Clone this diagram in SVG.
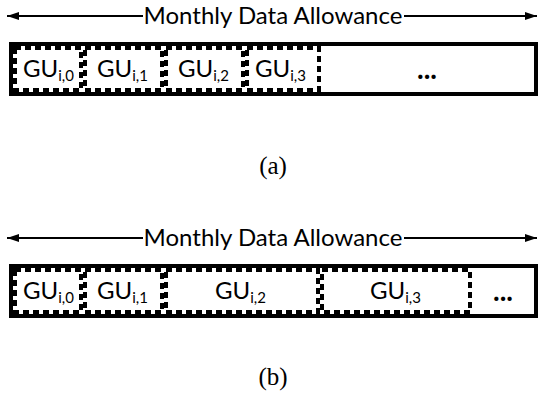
<svg xmlns="http://www.w3.org/2000/svg" width="539" height="403" viewBox="0 0 539 403">
<defs>
<marker id="ah" viewBox="0 0 12 10" refX="12" refY="5" markerWidth="12" markerHeight="10" markerUnits="userSpaceOnUse" orient="auto-start-reverse">
<path d="M0,1 L12,5 L0,9 Z" fill="#000"/>
</marker>
<style>
.outer{fill:#fff;stroke:#000;stroke-width:4}
.gu{fill:#fff;stroke:#000;stroke-width:4;stroke-dasharray:6 4}
.t{font-family:Lato,"Liberation Sans",sans-serif;font-size:24px;fill:#000}
.s{font-size:15px}
.d{font-family:Lato,"Liberation Sans",sans-serif;font-size:28px;font-weight:bold;fill:#000;text-anchor:middle}
.ttl{font-family:Lato,"Liberation Sans",sans-serif;font-size:24px;fill:#000}
.cap{font-family:"Liberation Serif",serif;font-size:25px;fill:#000;text-anchor:middle}
.arr{stroke:#000;stroke-width:2;fill:none}
</style>
</defs>
<g id="connectors">
<line class="arr" x1="143" y1="16" x2="7" y2="16" marker-end="url(#ah)"/>
<line class="arr" x1="404" y1="16" x2="537" y2="16" marker-end="url(#ah)"/>
<line class="arr" x1="143" y1="238" x2="7" y2="238" marker-end="url(#ah)"/>
<line class="arr" x1="404" y1="238" x2="537" y2="238" marker-end="url(#ah)"/>
</g>
<g id="title-a"><text class="ttl" x="273" y="24" text-anchor="middle">Monthly Data Allowance</text></g>
<g id="bar-a">
<rect class="outer" x="11" y="44" width="525" height="50"/>
</g>
<g id="gu-a0"><rect class="gu" x="15" y="48" width="66" height="42"/><text class="t" x="23" y="77">GU<tspan class="s" dy="4">i,0</tspan></text></g>
<g id="gu-a1"><rect class="gu" x="85" y="48" width="77" height="42"/><text class="t" x="97" y="77">GU<tspan class="s" dy="4">i,1</tspan></text></g>
<g id="gu-a2"><rect class="gu" x="166" y="48" width="77" height="42"/><text class="t" x="178" y="77">GU<tspan class="s" dy="4">i,2</tspan></text></g>
<g id="gu-a3"><rect class="gu" x="247" y="48" width="72" height="42"/><text class="t" x="255" y="77">GU<tspan class="s" dy="4">i,3</tspan></text></g>
<g id="dots-a"><text class="d" x="427" y="79">...</text></g>
<g id="caption-a"><text class="cap" x="273" y="174">(a)</text></g>

<g id="title-b"><text class="ttl" x="273" y="246" text-anchor="middle">Monthly Data Allowance</text></g>
<g id="bar-b">
<rect class="outer" x="11" y="266" width="525" height="50"/>
</g>
<g id="gu-b0"><rect class="gu" x="15" y="270" width="66" height="42"/><text class="t" x="23" y="299">GU<tspan class="s" dy="4">i,0</tspan></text></g>
<g id="gu-b1"><rect class="gu" x="85" y="270" width="77" height="42"/><text class="t" x="97" y="299">GU<tspan class="s" dy="4">i,1</tspan></text></g>
<g id="gu-b2"><rect class="gu" x="166" y="270" width="152" height="42"/><text class="t" x="215" y="299">GU<tspan class="s" dy="4">i,2</tspan></text></g>
<g id="gu-b3"><rect class="gu" x="322" y="270" width="148" height="42"/><text class="t" x="370" y="299">GU<tspan class="s" dy="4">i,3</tspan></text></g>
<g id="dots-b"><text class="d" x="503" y="301">...</text></g>
<g id="caption-b"><text class="cap" x="273" y="385">(b)</text></g>
</svg>
